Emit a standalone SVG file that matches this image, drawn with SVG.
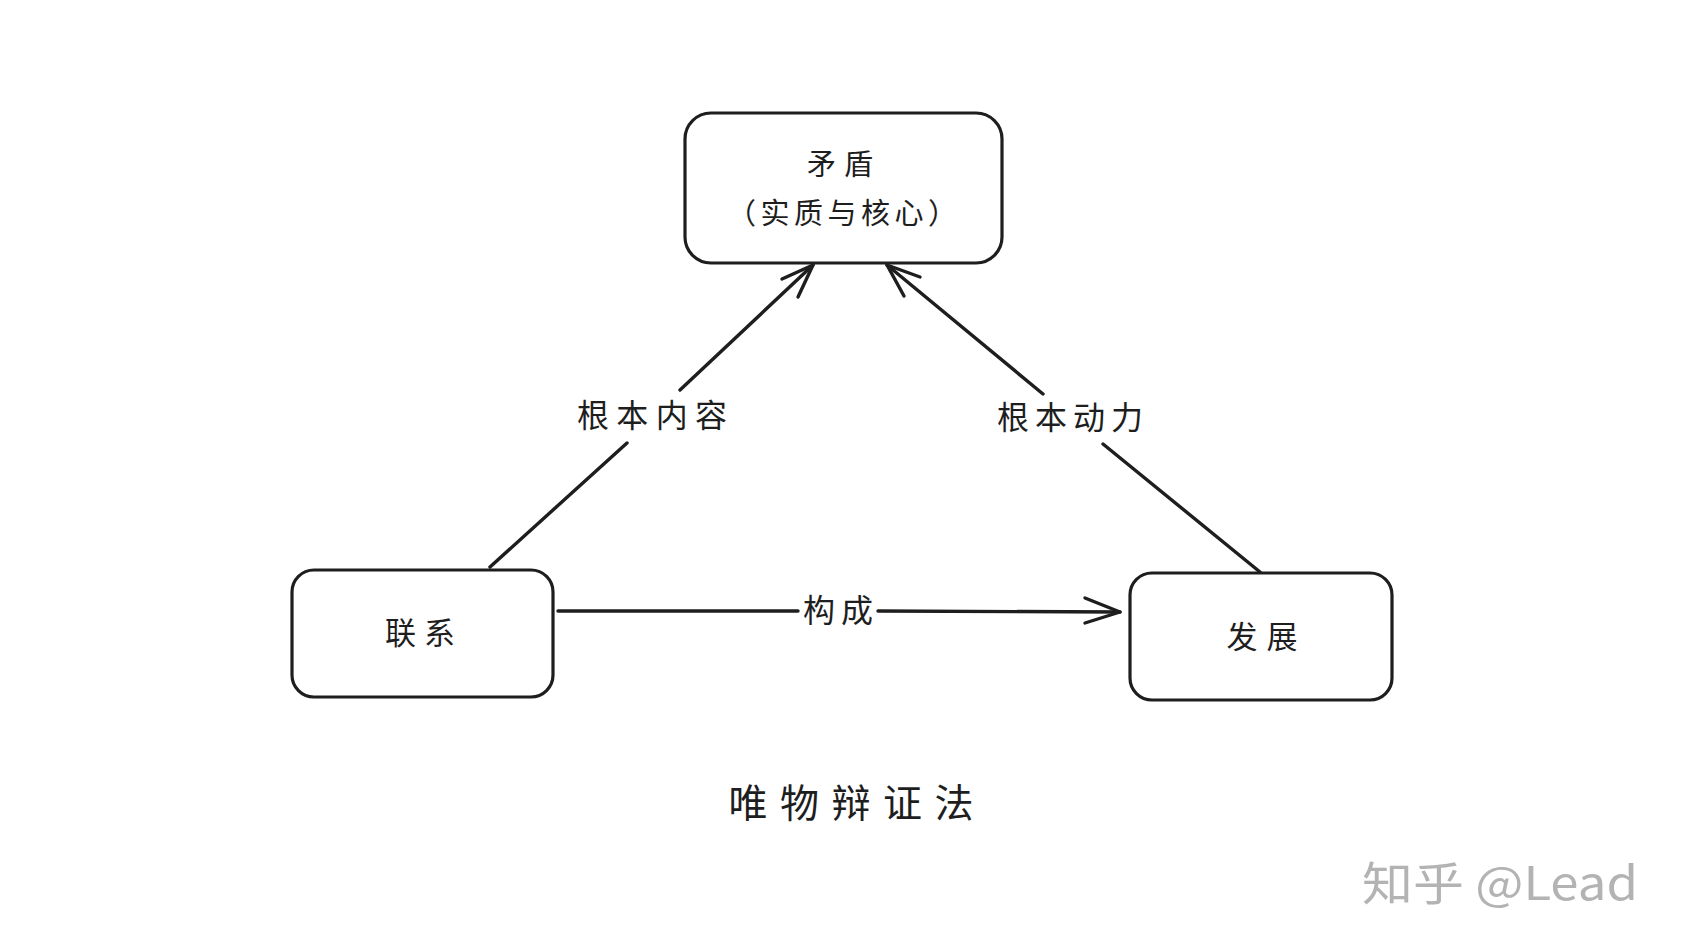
<svg xmlns="http://www.w3.org/2000/svg" width="1684" height="947" viewBox="0 0 1684 947">
<style>
.box{fill:#fff;stroke:#1e1e1e;stroke-width:3.2}
.ln{fill:none;stroke:#1e1e1e;stroke-width:3.4;stroke-linecap:round;stroke-linejoin:round}
.t{font-family:"Noto Sans CJK SC","Noto Sans",sans-serif;fill:#1e1e1e;text-anchor:middle;dominant-baseline:central}
</style>
<rect width="1684" height="947" fill="#fff"/>
<g id="edges">
  <g id="e-lianxi-maodun">
    <path class="ln" d="M490 567 L627 443 M680 390 L813 265"/>
    <path class="ln" d="M782 279 L813 265 L798 297"/>
    <text class="t" x="652" y="413" font-size="32" textLength="150" lengthAdjust="spacing">根本内容</text>
  </g>
  <g id="e-fazhan-maodun">
    <path class="ln" d="M1260 572 L1103 444 M1043 394 L887 265"/>
    <path class="ln" d="M920 277 L887 265 L904 296"/>
    <text class="t" x="1070" y="415" font-size="32" textLength="146" lengthAdjust="spacing">根本动力</text>
  </g>
  <g id="e-lianxi-fazhan">
    <path class="ln" d="M558 611 L798 611 M878 611 L1120 612"/>
    <path class="ln" d="M1085 598 L1120 612 L1085 623"/>
    <text class="t" x="838" y="608" font-size="32" textLength="70" lengthAdjust="spacing">构成</text>
  </g>
</g>
<g id="maodun">
  <rect class="box" x="685" y="113" width="317" height="150" rx="26"/>
  <text class="t" x="840" y="162" font-size="29" textLength="66" lengthAdjust="spacing">矛盾</text>
  <text class="t" x="842" y="211" font-size="29" textLength="230" lengthAdjust="spacing">（实质与核心）</text>
</g>
<g id="lianxi">
  <rect class="box" x="292" y="570" width="261" height="127" rx="22"/>
  <text class="t" x="420" y="630" font-size="31" textLength="70" lengthAdjust="spacing">联系</text>
</g>
<g id="fazhan">
  <rect class="box" x="1130" y="573" width="262" height="127" rx="22"/>
  <text class="t" x="1262" y="634" font-size="31" textLength="71" lengthAdjust="spacing">发展</text>
</g>
<g id="title">
  <text class="t" x="851" y="800" font-size="39" textLength="245" lengthAdjust="spacing">唯物辩证法</text>
</g>
<g id="watermark">
  <text x="1362" y="880" font-family="Noto Sans CJK SC, sans-serif" font-size="46" fill="#b3b3b3" dominant-baseline="central" textLength="276" lengthAdjust="spacingAndGlyphs">知乎 @Lead</text>
</g>
</svg>
